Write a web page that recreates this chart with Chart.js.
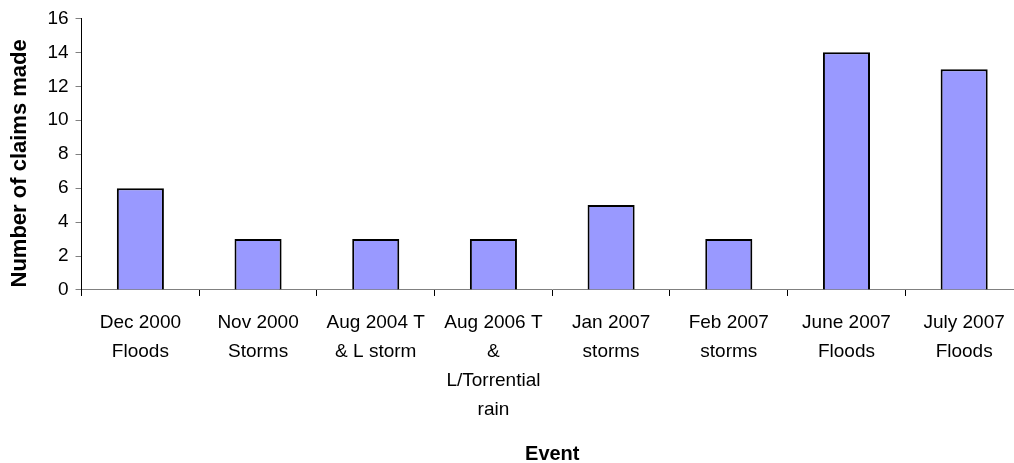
<!DOCTYPE html>
<html>
<head>
<meta charset="utf-8">
<script src="https://cdn.jsdelivr.net/npm/chart.js@4"></script>
<style>
	html, body { margin: 0; padding: 0; background: #fff; overflow: hidden; }
	#wrap { width: 1023px; height: 468px; }
</style>
</head>
<body>
<div id="wrap"><canvas id="claimsChart"></canvas></div>
<script>
const events = [
	['Dec 2000', 'Floods'],
	['Nov 2000', 'Storms'],
	['Aug 2004 T', '& L storm'],
	['Aug 2006 T', '&', 'L/Torrential', 'rain'],
	['Jan 2007', 'storms'],
	['Feb 2007', 'storms'],
	['June 2007', 'Floods'],
	['July 2007', 'Floods']
];
const claims = [6, 3, 3, 3, 5, 3, 14, 13];
const yTicks = [0, 2, 4, 6, 8, 10, 12, 14, 16];

const font = 'Liberation Sans, Arial, sans-serif';

document.addEventListener('DOMContentLoaded', function() {
	const ctx = document.getElementById('claimsChart').getContext('2d');

	new Chart(ctx, {
		type: 'bar',
		data: {
			labels: events,
			datasets: [{
				label: 'Number of claims made',
				data: claims,
				backgroundColor: '#9999ff',
				borderColor: '#000000',
				borderWidth: 2,
				barPercentage: 0.4,
				categoryPercentage: 1.0
			}]
		},
		options: {
			animation: false,
			responsive: true,
			maintainAspectRatio: false,
			layout: {
				padding: { top: 17, right: 0, bottom: 2, left: 7 }
			},
			plugins: {
				legend: { display: false },
				tooltip: { enabled: false }
			},
			scales: {
				x: {
					grid: {
						offset: true,
						drawOnChartArea: false,
						drawTicks: true,
						tickLength: 6,
						color: '#000000'
					},
					border: { display: true, color: '#808080', width: 1 },
					ticks: {
						color: '#000000',
						padding: 12.5,
						maxRotation: 0,
						autoSkip: false,
						font: { family: font, size: 19, lineHeight: 1.52 }
					},
					title: {
						display: true,
						text: 'Event',
						color: '#000000',
						padding: { top: 5.5, bottom: 0 },
						font: { family: font, size: 20, weight: 'bold' }
					}
				},
				y: {
					min: 0,
					max: 16,
					afterBuildTicks: function(axis) {
						axis.ticks = yTicks.map(v => ({ value: v }));
					},
					grid: {
						drawOnChartArea: false,
						drawTicks: true,
						tickLength: 6,
						color: '#808080'
					},
					border: { display: true, color: '#000000', width: 1 },
					ticks: {
						color: '#000000',
						padding: 7,
						font: { family: font, size: 19 }
					},
					title: {
						display: true,
						// trailing spaces nudge the rotated title down a little, as in the original
						text: 'Number of claims made   ',
						color: '#000000',
						padding: { top: 0, bottom: 7 },
						font: { family: font, size: 22, weight: 'bold' }
					}
				}
			}
		}
	});
});
</script>
</body>
</html>
